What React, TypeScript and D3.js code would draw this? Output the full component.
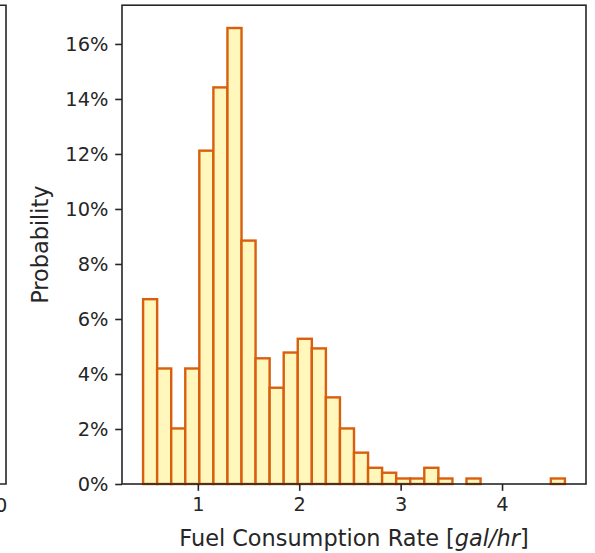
import React, { useEffect, useRef } from "react";
import * as d3 from "d3";

// Histogram of fuel consumption rates, 30 equal-width bins
const binStart = 0.46;
const binEnd = 4.62;
const binShares = [
  6.72, 4.2, 2.02, 4.2, 12.12, 14.42, 16.58, 8.85, 4.57, 3.5,
  4.78, 5.28, 4.93, 3.15, 2.02, 1.14, 0.59, 0.41, 0.2, 0.2,
  0.59, 0.2, 0, 0.2, 0, 0, 0, 0, 0, 0.2,
];
const xTicks = [1, 2, 3, 4];
const yTicks = [0, 2, 4, 6, 8, 10, 12, 14, 16];
const xLabel = "Fuel Consumption Rate ";
const xUnit = "gal/hr";
const yLabel = "Probability";
const neighbourTick = "10";

const W = 595;
const H = 553;
const FONT = "DejaVu Sans, sans-serif";
const FS = 19.4; // tick labels
const LFS = 22.4; // axis titles
const TICK = 6.8;
const PAD = 6.8;

export default function App() {
  const ref = useRef<SVGSVGElement | null>(null);

  useEffect(() => {
    const svg = d3.select(ref.current);
    svg.selectAll("*").remove();

    const plot = { left: 122, right: 586, top: 5.2, bottom: 484 };
    const span = binEnd - binStart;
    const x = d3
      .scaleLinear()
      .domain([binStart - 0.05 * span, binEnd + 0.05 * span])
      .range([plot.left, plot.right]);
    const yMax = d3.max(binShares)! * 1.05;
    const y = d3.scaleLinear().domain([0, yMax]).range([plot.bottom, plot.top]);

    const n = binShares.length;
    const w = span / n;
    const bins = binShares.map((v, i) => ({
      x0: binStart + i * w,
      x1: binStart + (i + 1) * w,
      v,
    }));

    // edge of the neighbouring panel
    const g0 = svg.append("g");
    g0.append("path")
      .attr("d", `M-2,${plot.top}H6V${plot.bottom}H-2`)
      .attr("fill", "none")
      .attr("stroke", "#262626")
      .attr("stroke-width", 1.6);
    g0.append("text")
      .attr("x", -5)
      .attr("y", plot.bottom + TICK + PAD)
      .attr("dy", "0.76em")
      .attr("text-anchor", "middle")
      .attr("font-family", FONT)
      .attr("font-size", FS)
      .attr("fill", "#262626")
      .text(neighbourTick);

    // bars
    svg
      .append("g")
      .selectAll("rect")
      .data(bins.filter((b) => b.v > 0))
      .join("rect")
      .attr("x", (b) => x(b.x0))
      .attr("width", (b) => x(b.x1) - x(b.x0))
      .attr("y", (b) => y(b.v))
      .attr("height", (b) => y(0) - y(b.v))
      .attr("fill", "#fff7bc")
      .attr("stroke", "#d95f0e")
      .attr("stroke-width", 2.4);

    // axes
    const xAxis = d3.axisBottom(x).tickValues(xTicks).tickSize(TICK).tickPadding(PAD).tickFormat(d3.format("d"));
    const yAxis = d3
      .axisLeft(y)
      .tickValues(yTicks)
      .tickSize(TICK)
      .tickPadding(PAD)
      .tickFormat((d) => `${d}%`);

    const gx = svg.append("g").attr("transform", `translate(0,${plot.bottom})`).call(xAxis);
    const gy = svg.append("g").attr("transform", `translate(${plot.left},0)`).call(yAxis);
    [gx, gy].forEach((g) => {
      g.select(".domain").remove();
      g.selectAll("line").attr("stroke", "#262626").attr("stroke-width", 1.6);
      g.selectAll("text").attr("font-family", FONT).attr("font-size", FS).attr("fill", "#262626");
    });

    // frame
    svg
      .append("rect")
      .attr("x", plot.left)
      .attr("y", plot.top)
      .attr("width", plot.right - plot.left)
      .attr("height", plot.bottom - plot.top)
      .attr("fill", "none")
      .attr("stroke", "#262626")
      .attr("stroke-width", 1.6);

    // axis titles
    const xt = svg
      .append("text")
      .attr("x", (plot.left + plot.right) / 2)
      .attr("y", 546)
      .attr("text-anchor", "middle")
      .attr("font-family", FONT)
      .attr("font-size", LFS)
      .attr("fill", "#262626");
    xt.append("tspan").text(xLabel + "[");
    xt.append("tspan").attr("font-style", "italic").text(xUnit);
    xt.append("tspan").text("]");

    svg
      .append("text")
      .attr("transform", `translate(48,${(plot.top + plot.bottom) / 2}) rotate(-90)`)
      .attr("text-anchor", "middle")
      .attr("font-family", FONT)
      .attr("font-size", LFS)
      .attr("fill", "#262626")
      .text(yLabel);
  }, []);

  return (
    <svg
      ref={ref}
      width={W}
      height={H}
      style={{ position: "absolute", left: 0, top: 0, background: "#fff" }}
    />
  );
}
